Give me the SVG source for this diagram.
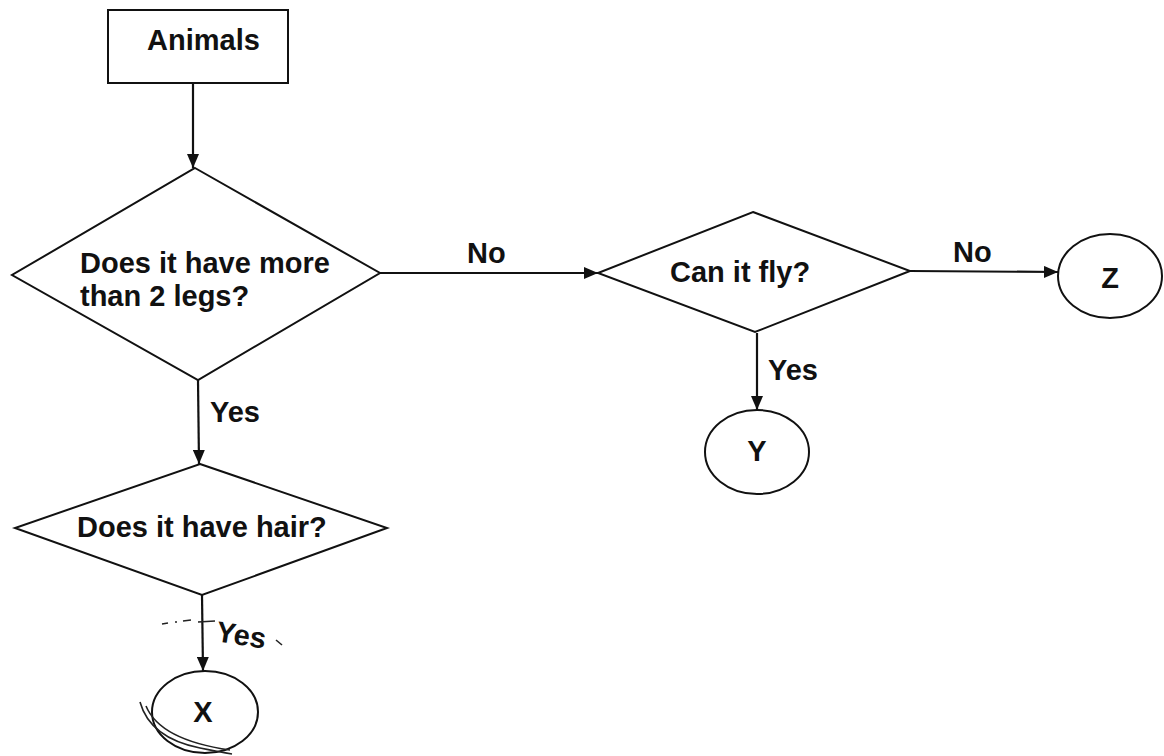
<svg xmlns="http://www.w3.org/2000/svg" width="1164" height="756" viewBox="0 0 1164 756">
<style>
.shape{fill:#fff;stroke:#111;stroke-width:2}
.conn{fill:none;stroke:#111;stroke-width:2.2}
.t{font-family:"Liberation Sans",Arial,sans-serif;font-weight:bold;font-size:29px;fill:#111}
.c{text-anchor:middle}
.scr{fill:none;stroke:#222;stroke-width:1.6}
</style>
<defs>
<marker id="ah" viewBox="0 0 14 12" refX="14" refY="6" markerWidth="14" markerHeight="12" markerUnits="userSpaceOnUse" orient="auto">
<path d="M0,0 L14,6 L0,12 Z" fill="#111"/>
</marker>
</defs>
<rect width="1164" height="756" fill="#fff"/>
<g id="connectors">
<line class="conn" x1="193" y1="83" x2="193" y2="168" marker-end="url(#ah)"/>
<line class="conn" x1="380" y1="273" x2="598" y2="273" marker-end="url(#ah)"/>
<line class="conn" x1="910" y1="271" x2="1058" y2="272" marker-end="url(#ah)"/>
<line class="conn" x1="757" y1="333" x2="757" y2="410" marker-end="url(#ah)"/>
<line class="conn" x1="198" y1="380" x2="199" y2="464" marker-end="url(#ah)"/>
<line class="conn" x1="202" y1="595" x2="203" y2="671" marker-end="url(#ah)"/>
<text class="t" x="467" y="263">No</text>
<text class="t" x="953" y="262">No</text>
<text class="t" x="768" y="380">Yes</text>
<text class="t" x="210" y="422">Yes</text>
<text class="t" x="215" y="641" transform="rotate(9 215 641)">Yes</text>
</g>
<g id="animals">
<rect class="shape" x="108" y="10" width="180" height="73"/>
<text class="t" x="147" y="50">Animals</text>
</g>
<g id="legs">
<polygon class="shape" points="195,168 380,273 198,380 12,275"/>
<text class="t" x="80" y="273">Does it have more</text>
<text class="t" x="80" y="306">than 2 legs?</text>
</g>
<g id="fly">
<polygon class="shape" points="753,212 910,271 755,332 598,273"/>
<text class="t" x="670" y="282">Can it fly?</text>
</g>
<g id="hair">
<polygon class="shape" points="200,464 387,528 202,595 15,528"/>
<text class="t" x="77" y="537">Does it have hair?</text>
</g>
<g id="z">
<ellipse class="shape" cx="1110" cy="276" rx="52" ry="42"/>
<text class="t c" x="1110" y="288">Z</text>
</g>
<g id="y">
<ellipse class="shape" cx="757" cy="452" rx="52" ry="42"/>
<text class="t c" x="757" y="461">Y</text>
</g>
<g id="x">
<ellipse class="shape" cx="205" cy="712" rx="53" ry="41"/>
<text class="t c" x="203" y="722">X</text>
</g>
<g id="scribbles">
<path class="scr" d="M162,624 L168,623 M175,622 L177,622 M183,621 L191,620 M198,622 L215,621"/>
<path class="scr" d="M140,702 Q150,738 200,748 Q220,752 232,754"/>
<path class="scr" d="M146,706 Q160,740 230,750"/>
<path class="scr" d="M276,640 L282,645"/>
</g>
</svg>
